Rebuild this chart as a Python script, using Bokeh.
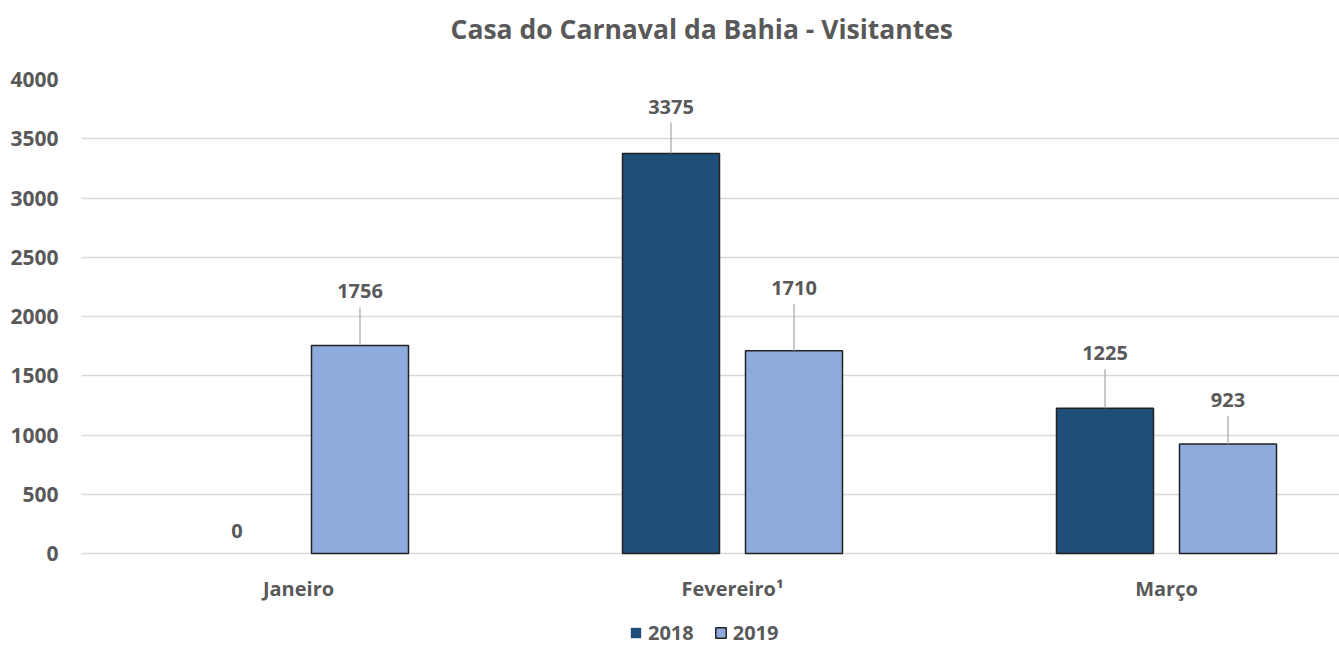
from bokeh.plotting import figure
from bokeh.models import (ColumnDataSource, Range1d, FixedTicker,
                          LabelSet, Legend, LegendItem, Title)
from bokeh.core.properties import value
from bokeh.transform import dodge
from bokeh.embed import file_html
from bokeh.resources import INLINE
import math

# ---- data ----
categories = ["Janeiro", "Fevereiro\u00b9", "Março"]
series_names = ["2018", "2019"]
values_2018 = [0, 3375, 1225]
values_2019 = [1756, 1710, 923]
y_ticks = [0, 500, 1000, 1500, 2000, 2500, 3000, 3500, 4000]
title_text = "Casa do Carnaval da Bahia - Visitantes"

# ---- styles ----
C2018 = "#1F4E79"
C2019 = "#8FAADC"
TXT = "#595959"
GRID = "#D9D9D9"
FONT = "Open Sans"
OUTLINE = "#222222"

W, H = 1339, 646
LB, TB = 81, 79
frame_w, frame_h = W - LB, H - TB
cat_px = 434.0           # pixels per category
y_px = 474.0 / 4000.0    # pixels per visitor
bar_w = 97.0 / cat_px
off = 61.5 / cat_px
# label lift in pixels above the bar top (Excel hand-placed labels)
lift_2018 = [23, 47, 55]
lift_2019 = [54, 63, 44]

xc = [i + 0.5 for i in range(len(categories))]
y_top = max(y_ticks)
y_bottom = y_top - frame_h / y_px   # room under the baseline for category labels + legend

p = figure(width=W, height=H, output_backend="svg", toolbar_location=None,
           x_range=Range1d(0, frame_w / cat_px), y_range=Range1d(y_bottom, y_top),
           x_axis_location=None,
           min_border_left=LB, min_border_right=0, min_border_top=TB, min_border_bottom=0)
p.outline_line_color = None
p.background_fill_color = "white"
p.border_fill_color = "white"

# spacer (closest to frame) then the visible title
p.add_layout(Title(text=" ", text_font_size="1px", standoff=30), "above")
p.add_layout(Title(text=title_text, align="left", offset=369, standoff=0,
                   text_font=FONT, text_font_size="26.5px", text_font_style="bold",
                   text_color=TXT), "above")

s18 = ColumnDataSource(dict(x=xc, v=values_2018,
                            lc=[OUTLINE if v > 0 else None for v in values_2018],
                            t=[str(v) for v in values_2018], lift=lift_2018))
s19 = ColumnDataSource(dict(x=xc, v=values_2019,
                            lc=[OUTLINE if v > 0 else None for v in values_2019],
                            t=[str(v) for v in values_2019], lift=lift_2019))

r18 = p.vbar(x=dodge("x", -off), top="v", bottom=0, width=bar_w, source=s18,
             fill_color=C2018, line_color="lc", line_width=1.5)
r19 = p.vbar(x=dodge("x", off), top="v", bottom=0, width=bar_w, source=s19,
             fill_color=C2019, line_color="lc", line_width=1.5)

# leader lines (only for non-zero bars)
for src_vals, lifts, o in ((values_2018, lift_2018, -off), (values_2019, lift_2019, off)):
    xs = [x + o for x, v in zip(xc, src_vals) if v > 0]
    ys = [v for v in src_vals if v > 0]
    ls = [l - 16 for l, v in zip(lifts, src_vals) if v > 0]
    p.ray(x=xs, y=ys, length=ls, angle=math.pi / 2, length_units="screen",
          line_color="#A6A6A6", line_width=1.2)

for src, o in ((s18, -off), (s19, off)):
    p.add_layout(LabelSet(x=dodge("x", o), y="v", text="t", y_offset="lift", source=src,
                          text_align="center", text_baseline="middle",
                          text_font=value(FONT), text_font_size=value("20px"),
                          text_font_style=value("bold"), text_color=value(TXT)))

# category labels under the baseline
cat_src = ColumnDataSource(dict(x=xc, y=[0] * len(xc), t=categories))
p.add_layout(LabelSet(x="x", y="y", text="t", y_offset=-35, source=cat_src,
                      text_align="center", text_baseline="middle",
                      text_font=value(FONT), text_font_size=value("20px"),
                      text_font_style=value("bold"), text_color=value(TXT)))

# y axis
p.yaxis.ticker = FixedTicker(ticks=y_ticks)
p.yaxis.axis_line_color = None
p.yaxis.major_tick_line_color = None
p.yaxis.minor_tick_line_color = None
p.yaxis.major_tick_out = 0
p.yaxis.major_label_standoff = 23
p.yaxis.major_label_text_font = FONT
p.yaxis.major_label_text_font_size = "21px"
p.yaxis.major_label_text_font_style = "bold"
p.yaxis.major_label_text_color = TXT

p.xgrid.grid_line_color = None
p.ygrid.grid_line_color = GRID
p.ygrid.grid_line_width = 1.3

legend = Legend(items=[LegendItem(label=series_names[0], renderers=[r18]),
                       LegendItem(label=series_names[1], renderers=[r19])],
                location=(548, 0), orientation="horizontal",
                padding=0, margin=0, spacing=20, label_standoff=6,
                glyph_width=13, glyph_height=13,
                label_text_font=FONT, label_text_font_size="20px",
                label_text_font_style="bold", label_text_color=TXT,
                border_line_color=None, background_fill_alpha=0)
p.add_layout(legend)

open("out.html", "w").write(file_html(p, INLINE))
